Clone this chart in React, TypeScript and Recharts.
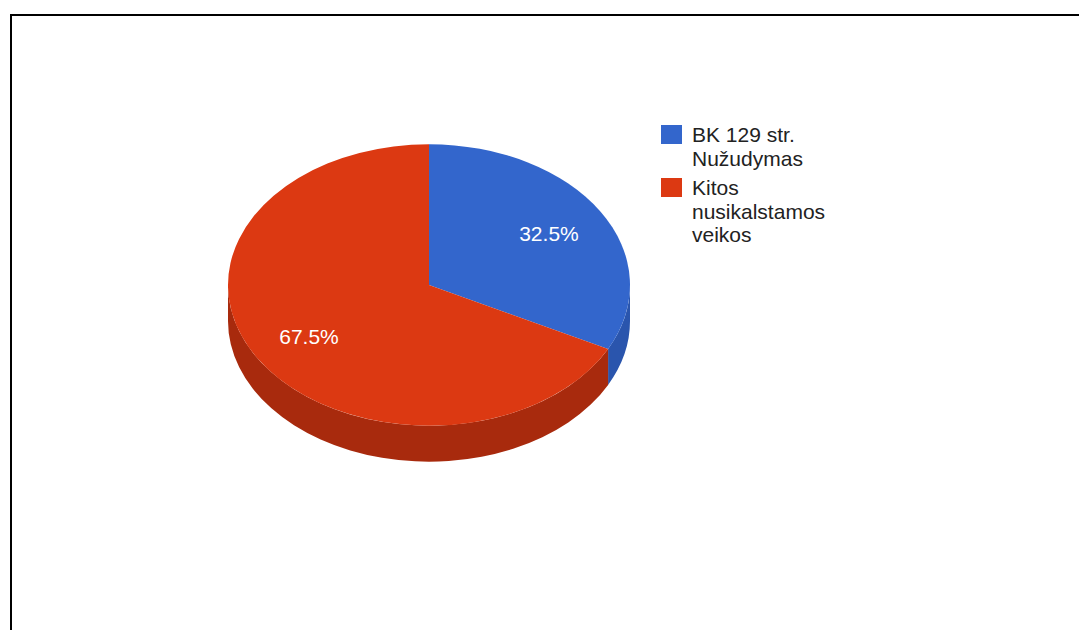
import { PieChart, Pie, Cell, Legend } from 'recharts'

const CATEGORIES = ['BK 129 str. Nužudymas', 'Kitos nusikalstamos veikos']
const VALUES = [32.5, 67.5]
const TOP_COLORS = ['#3366cc', '#dc3912']
const SIDE_COLORS = ['#2a55ad', '#a82a0d']

const TILT = 0.7 // vertical squash of the pie ellipse
const DEPTH = 36

const data = CATEGORIES.map((name, i) => ({ name, value: VALUES[i] }))

const FONT = 'Arial, "Liberation Sans", sans-serif'

function pt(cx: number, cy: number, r: number, a: number, dy = 0) {
  const rad = (a * Math.PI) / 180
  return `${cx + r * Math.cos(rad)},${cy - r * TILT * Math.sin(rad) + dy}`
}

// 3d slice: front wall first, then the top face
function Slice3D(props: any) {
  const { cx, cy, outerRadius: r, startAngle, endAngle, index } = props
  const hi = Math.max(startAngle, endAngle)
  const lo = Math.min(startAngle, endAngle)
  const ry = r * TILT
  const large = hi - lo > 180 ? 1 : 0
  const top = `M${cx},${cy} L${pt(cx, cy, r, hi)} A${r},${ry} 0 ${large} 1 ${pt(cx, cy, r, lo)} Z`

  const walls: string[] = []
  for (let n = -2; n <= 1; n++) {
    const a = Math.min(hi, 360 * n)
    const b = Math.max(lo, 360 * n - 180)
    if (a - b > 0.01) {
      walls.push(
        `M${pt(cx, cy, r, a)} A${r},${ry} 0 0 1 ${pt(cx, cy, r, b)} ` +
        `L${pt(cx, cy, r, b, DEPTH)} A${r},${ry} 0 0 0 ${pt(cx, cy, r, a, DEPTH)} Z`
      )
    }
  }

  return (
    <g>
      {walls.map((d, i) => <path key={i} d={d} fill={SIDE_COLORS[index]} stroke="none" />)}
      <path d={top} fill={TOP_COLORS[index]} stroke="none" />
    </g>
  )
}

function renderLabel(props: any) {
  const { cx, cy, midAngle, outerRadius, percent } = props
  const rad = (midAngle * Math.PI) / 180
  const x = cx + outerRadius * 0.7 * Math.cos(rad)
  const y = cy - outerRadius * 0.7 * TILT * Math.sin(rad)
  return (
    <text x={x} y={y} fill="#ffffff" textAnchor="middle" dominantBaseline="central"
      fontSize={21} fontFamily={FONT}>
      {`${(percent * 100).toFixed(1)}%`}
    </text>
  )
}

function LegendBox({ payload }: any) {
  return (
    <div style={{ fontFamily: FONT, fontSize: 21, lineHeight: '23.5px', color: '#222' }}>
      {(payload || []).map((entry: any, i: number) => (
        <div key={i} style={{ display: 'flex', alignItems: 'flex-start', marginBottom: 6 }}>
          <span style={{ display: 'inline-block', width: 21, height: 19, marginTop: 2,
            background: TOP_COLORS[i], flexShrink: 0 }} />
          <span style={{ marginLeft: 10, width: 150 }}>{entry.value}</span>
        </div>
      ))}
    </div>
  )
}

export default function App() {
  return (
    <div style={{ position: 'absolute', left: 0, top: 0, width: 1081, height: 630, background: '#fff' }}>
      <div style={{ position: 'absolute', left: 10, top: 14, right: 2, bottom: 0,
        borderTop: '2px solid #000', borderLeft: '2px solid #000' }} />
      <PieChart width={1081} height={630} margin={{ top: 0, right: 0, bottom: 0, left: 0 }}
        style={{ position: 'absolute', left: 0, top: 0 }}>
        <Pie
          data={data}
          dataKey="value"
          nameKey="name"
          cx={429}
          cy={285}
          outerRadius={201}
          startAngle={90}
          endAngle={-270}
          stroke="none"
          label={renderLabel}
          labelLine={false}
          shape={Slice3D}
          activeShape={Slice3D}
          inactiveShape={Slice3D}
          isAnimationActive={false}
        >
          {data.map((d, i) => <Cell key={d.name} fill={TOP_COLORS[i]} />)}
        </Pie>
        <Legend
          layout="vertical"
          content={<LegendBox />}
          wrapperStyle={{ position: 'absolute', left: 661, top: 123, width: 200 }}
        />
      </PieChart>
    </div>
  )
}
